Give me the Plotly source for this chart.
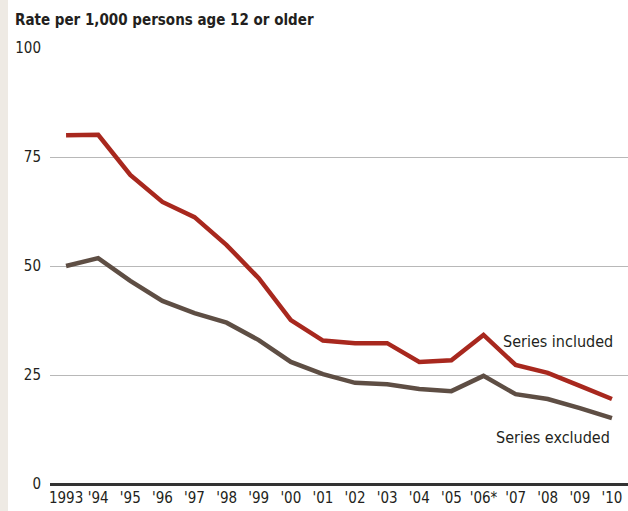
import plotly.graph_objs as go

years = list(range(1993, 2011))
tick_labels = ["1993", "'94", "'95", "'96", "'97", "'98", "'99", "'00", "'01", "'02",
               "'03", "'04", "'05", "'06*", "'07", "'08", "'09", "'10"]
series_included = [80.0, 80.1, 70.9, 64.7, 61.2, 54.8, 47.2, 37.6, 32.9, 32.3,
                   32.3, 28.0, 28.4, 34.2, 27.3, 25.5, 22.5, 19.5]
series_excluded = [50.0, 51.8, 46.6, 42.0, 39.2, 37.0, 33.0, 28.0, 25.2, 23.2,
                   22.9, 21.8, 21.3, 24.8, 20.6, 19.5, 17.4, 15.1]

FONT = "DejaVu Sans Condensed, Liberation Sans Narrow, Roboto, sans-serif"
TEXT = "#231f20"
RED = "#a8281e"
BROWN = "#5e4e44"

fig = go.Figure()
fig.add_trace(go.Scatter(x=years, y=series_included, mode="lines", name="Series included",
                         line=dict(color=RED, width=4.5)))
fig.add_trace(go.Scatter(x=years, y=series_excluded, mode="lines", name="Series excluded",
                         line=dict(color=BROWN, width=4.5)))

fig.update_layout(
    width=628, height=511,
    margin=dict(l=50, r=0, t=48, b=27),
    paper_bgcolor="white", plot_bgcolor="white",
    showlegend=False,
    font=dict(family=FONT, size=15, color=TEXT),
    title=dict(text="<b>Rate per 1,000 persons age 12 or older</b>", xref="container",
               x=15 / 628, xanchor="left", yref="container", y=1 - 20 / 511, yanchor="middle",
               font=dict(family=FONT, size=15, color=TEXT)),
)
# beige strip on the left edge
fig.add_shape(type="rect", xref="paper", yref="paper", x0=-50 / 578, x1=-42 / 578, y0=-1, y1=2,
              fillcolor="#eeeae4", line=dict(width=0), layer="below")

fig.update_xaxes(range=[1992.5, 2010.5], tickvals=years, ticktext=tick_labels,
                 showgrid=False, zeroline=False, showline=False, ticks="",
                 ticklabelstandoff=3)
fig.update_yaxes(range=[0, 100], tickvals=[0, 25, 50, 75, 100], showgrid=True,
                 gridcolor="#b8b8b8", gridwidth=1, zeroline=True, zerolinecolor="#333333",
                 zerolinewidth=3, ticks="", showline=False, ticklabelstandoff=8)

fig.add_annotation(x=2010.1, y=(484 - 341) / 4.36, text="Series included", showarrow=False,
                   xanchor="right", font=dict(family=FONT, size=16, color=TEXT))
fig.add_annotation(x=2010.0, y=(484 - 437) / 4.36, text="Series excluded", showarrow=False,
                   xanchor="right", font=dict(family=FONT, size=16, color=TEXT))

fig.write_html("out.html", config={"displayModeBar": False},
               post_script="document.body.style.margin = '0';")
